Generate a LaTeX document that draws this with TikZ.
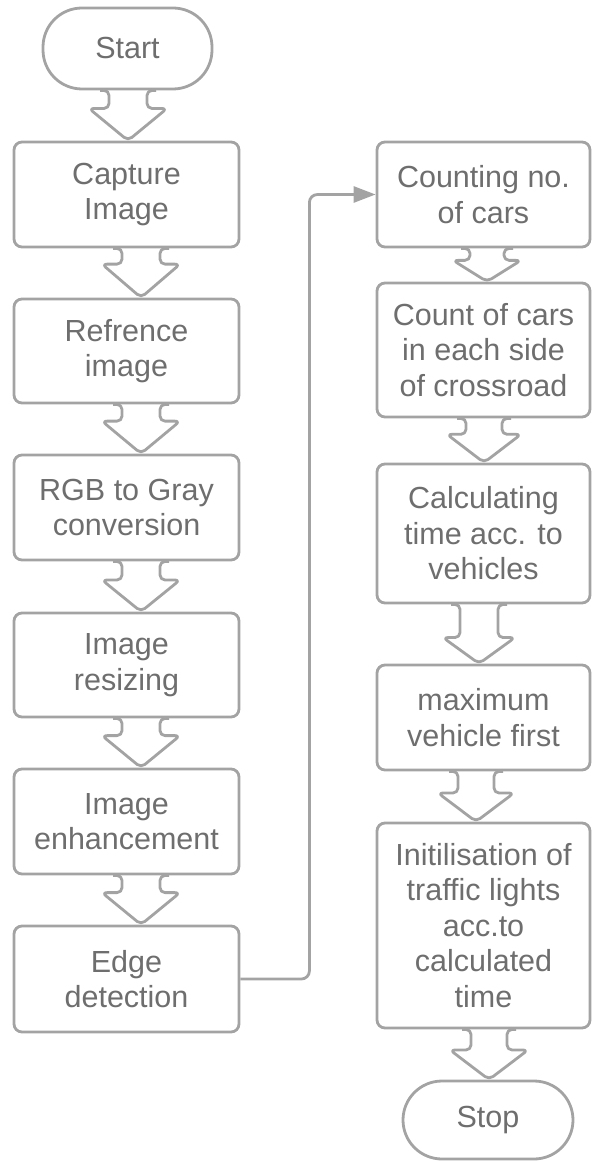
\documentclass[tikz,border=0pt]{standalone}
\usepackage{fontspec}
\setmainfont{Liberation Sans}
\usetikzlibrary{calc,arrows.meta}
\definecolor{linegray}{HTML}{A3A3A3}
\definecolor{textgray}{HTML}{6E6E6E}
\newcommand\flowarrow[6]{%
 \draw[blockarr] let \p1=(#1.south), \p2=(#2.north), \n1={#3pt}, \n2={\y1+(\y2-\y1)*#4}, \n3={#5pt}, \n4={#6pt} in
 ({\n1-\n3-9pt},\y1) -- ({\n1-\n3},\y1) -- ({\n1-\n3},\n2)
 -- ({\n1-\n4},\n2) -- (\n1,\y2) -- ({\n1+\n4},\n2) -- ({\n1+\n3},\n2)
 -- ({\n1+\n3},\y1) -- ({\n1+\n3+9pt},\y1);
}
\begin{document}
\begin{tikzpicture}[x=1pt,y=-1pt,
  box/.style={draw=linegray, line width=2.8pt, rounded corners=8pt, fill=white,
    text=textgray, align=center, inner sep=0pt,
    font=\fontsize{30.5}{35.5}\selectfont},
  lbox/.style={box, minimum width=225pt},
  rbox/.style={box, minimum width=213pt},
  term/.style={box, rounded corners=39pt},
  blockarr/.style={draw=linegray, line width=2.8pt, rounded corners=5pt, line join=round},
  conn/.style={draw=linegray, line width=2.8pt, rounded corners=8pt,
    -{Triangle[length=22pt,width=16pt]}}]
\useasboundingbox (0,0) rectangle (592,1161);
% left column
\node[term, minimum width=169pt, minimum height=81pt] (start) at (127.5,48.5) {Start};
\node[lbox, minimum height=105pt] (cap) at (126.5,194.5) {Capture\\Image};
\node[lbox, minimum height=104pt] (ref) at (126.5,351) {Refrence\\image};
\node[lbox, minimum height=105pt] (rgb) at (126.5,507.5) {RGB to Gray\\conversion};
\node[lbox, minimum height=104pt] (res) at (126.5,665) {Image\\resizing};
\node[lbox, minimum height=105pt] (enh) at (126.5,821.5) {Image\\enhancement};
\node[lbox, minimum height=106pt] (edge) at (126.5,979) {Edge\\detection};
% right column
\node[rbox, minimum height=105pt] (cnt) at (483.5,194.5) {Counting no.\\of cars};
\node[rbox, minimum height=134pt] (side) at (483.5,350) {Count of cars\\in each side\\of crossroad};
\node[rbox, minimum height=139pt] (calc) at (483.5,533.5) {Calculating\\time acc. to\\vehicles};
\node[rbox, minimum height=105pt] (maxv) at (483.5,717.5) {maximum\\vehicle first};
\node[rbox, minimum height=205pt] (init) at (483.5,925.5) {Initilisation of\\traffic lights\\acc.to\\calculated\\time};
\node[term, minimum width=170pt, minimum height=78pt] (stop) at (488,1120) {Stop};
% block arrows
\flowarrow{start}{cap}{128}{0.36}{19}{39}
\flowarrow{cap}{ref}{141}{0.32}{19}{39}
\flowarrow{ref}{rgb}{141}{0.34}{19}{39}
\flowarrow{rgb}{res}{141}{0.37}{19}{39}
\flowarrow{res}{enh}{141}{0.35}{19}{39}
\flowarrow{enh}{edge}{141}{0.35}{19}{39}
\flowarrow{cnt}{side}{487}{0.36}{17}{34}
\flowarrow{side}{calc}{484}{0.36}{18}{37}
\flowarrow{calc}{maxv}{479}{0.56}{19}{36}
\flowarrow{maxv}{init}{476}{0.43}{18}{38}
\flowarrow{init}{stop}{489}{0.41}{18}{39}
% connector
\draw[conn] (edge.east) -- ++(69,0) |- (cnt.west);
\end{tikzpicture}
\end{document}
